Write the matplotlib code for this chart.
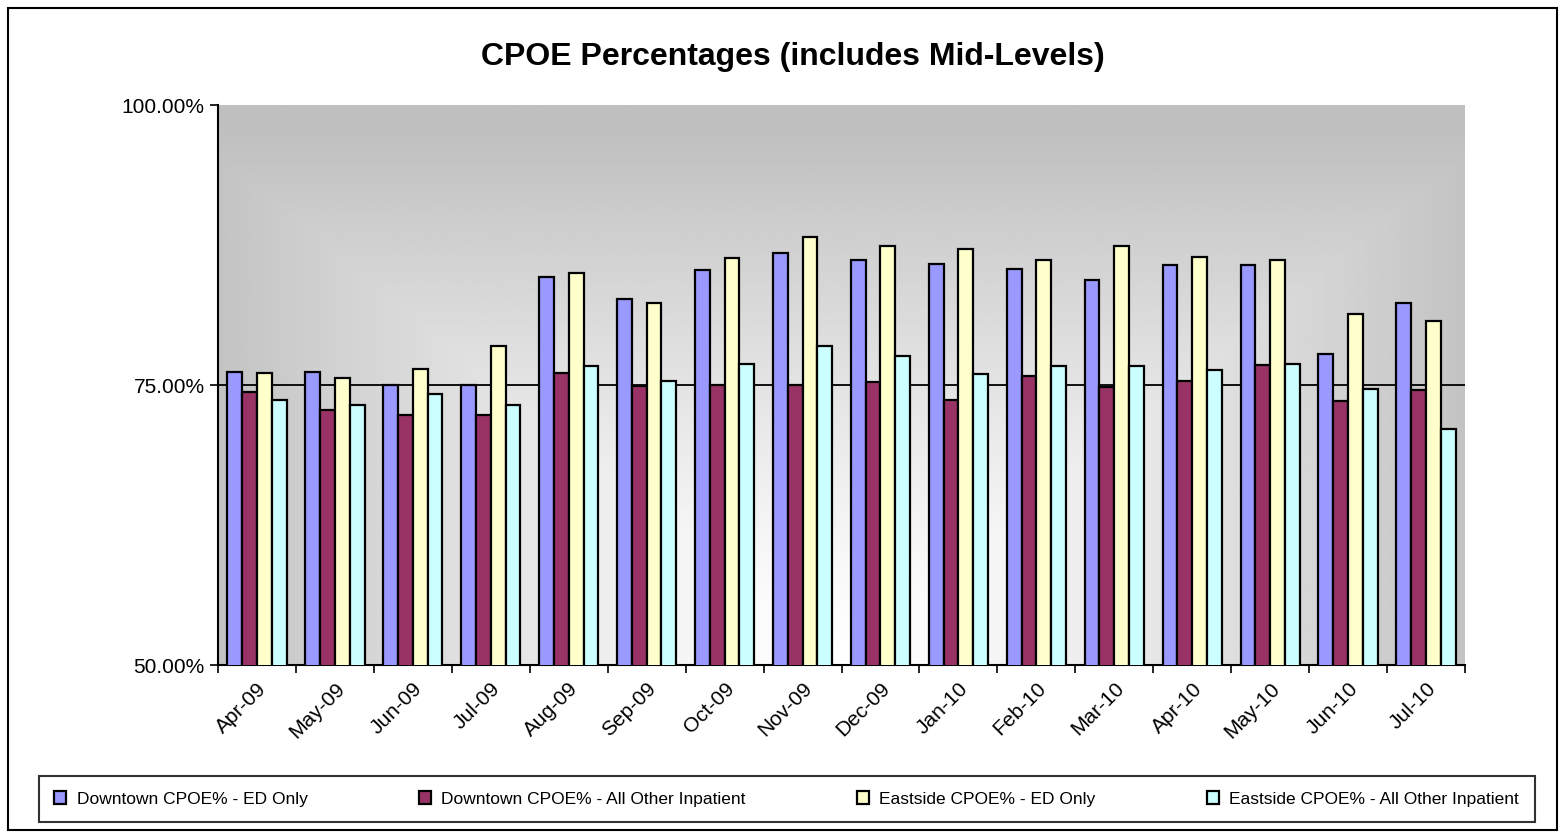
import numpy as np
import matplotlib.pyplot as plt
from matplotlib.patches import Rectangle

plt.rcParams['font.family'] = ['Liberation Sans', 'DejaVu Sans']

months = ['Apr-09', 'May-09', 'Jun-09', 'Jul-09', 'Aug-09', 'Sep-09', 'Oct-09', 'Nov-09',
          'Dec-09', 'Jan-10', 'Feb-10', 'Mar-10', 'Apr-10', 'May-10', 'Jun-10', 'Jul-10']
dt_ed = [76.2, 76.2, 75.0, 75.0, 84.6, 82.7, 85.3, 86.8, 86.2, 85.8, 85.4, 84.4, 85.7, 85.7, 77.8, 82.3]
dt_other = [74.4, 72.8, 72.3, 72.3, 76.1, 74.9, 75.0, 75.0, 75.3, 73.7, 75.8, 74.85, 75.4, 76.8, 73.6, 74.55]
es_ed = [76.1, 75.6, 76.4, 78.5, 85.0, 82.3, 86.3, 88.2, 87.4, 87.1, 86.2, 87.4, 86.4, 86.2, 81.3, 80.7]
es_other = [73.7, 73.2, 74.2, 73.2, 76.7, 75.4, 76.9, 78.5, 77.6, 76.0, 76.7, 76.7, 76.3, 76.9, 74.6, 71.1]

series = [
    ('Downtown CPOE% - ED Only', dt_ed, '#9999FF'),
    ('Downtown CPOE% - All Other Inpatient', dt_other, '#993366'),
    ('Eastside CPOE% - ED Only', es_ed, '#FFFFCC'),
    ('Eastside CPOE% - All Other Inpatient', es_other, '#CCFFFF'),
]

fig = plt.figure(figsize=(15.64, 8.38), dpi=100)
ax = fig.add_axes([0.1394, 0.2064, 0.7973, 0.6683])

# gray gradient background of the plot area
u, v = np.meshgrid(np.linspace(0, 1, 300), np.linspace(0, 1, 300))
t = np.maximum(np.abs(u - 0.5) * 1.9, v * 1.05)
shade = 1.0 - 0.25 * np.clip(t, 0, 1) ** 1.3
ax.imshow(shade, cmap='gray', vmin=0, vmax=1, origin='lower', aspect='auto',
          extent=[0, 1, 0, 1], transform=ax.transAxes, zorder=0)

x = np.arange(len(months))
w = 0.19
for i, (name, vals, col) in enumerate(series):
    ax.bar(x + (i - 1.5) * w, vals, w, bottom=0, color=col, edgecolor='black',
           linewidth=1.6, label=name, zorder=3)

ax.axhline(75, color='black', lw=1.3, zorder=2)
ax.set_ylim(50, 100)
ax.set_xlim(-0.5, len(months) - 0.5)
ax.set_yticks([50, 75, 100])
ax.set_yticklabels(['50.00%', '75.00%', '100.00%'], fontsize=15)
ax.set_xticks(x)
ax.set_xticklabels(months, rotation=45, ha='right', rotation_mode='anchor', fontsize=15)
ax.set_xticks(np.arange(-0.5, len(months)), minor=True)
ax.tick_params(axis='x', which='major', length=0, pad=10)
ax.tick_params(axis='x', which='minor', length=6, width=1.2)
ax.tick_params(axis='y', length=6, width=1.2)
for s in ['top', 'right']:
    ax.spines[s].set_visible(False)
ax.spines['left'].set_linewidth(1.5)
ax.spines['bottom'].set_linewidth(1.5)

fig.text(0.507, 0.932, 'CPOE Percentages (includes Mid-Levels)', ha='center', va='center',
         fontsize=23, fontweight='bold')

leg = fig.legend(loc='center', bbox_to_anchor=(0.503, 0.0465), ncol=4, frameon=True,
                 fontsize=12.5, handlelength=0.7, handleheight=0.7, columnspacing=6.4,
                 handletextpad=0.6, borderpad=0.9, borderaxespad=0, fancybox=False,
                 edgecolor='black')
leg.get_frame().set_linewidth(1.5)

fig.patches.append(Rectangle((8 / 1564, 8 / 838), 1549 / 1564, 822 / 838, transform=fig.transFigure,
                             fill=False, edgecolor='black', linewidth=1.5))

fig.savefig('out.png', dpi=100)
